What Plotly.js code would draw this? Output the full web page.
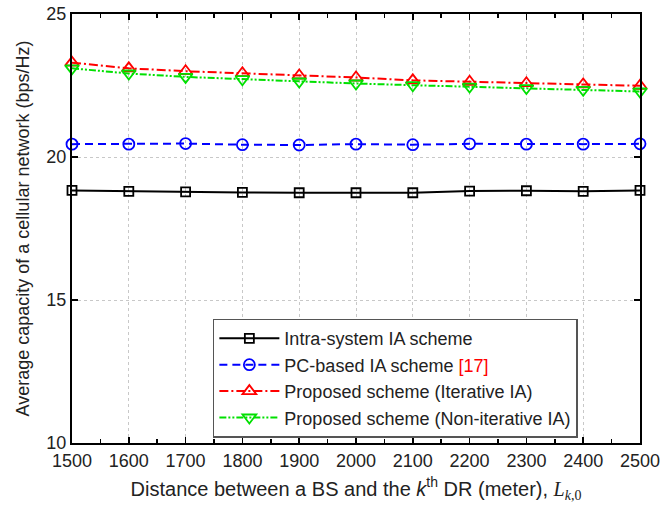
<!DOCTYPE html>
<html>
<head>
<meta charset="utf-8">
<script src="https://cdn.plot.ly/plotly-3.0.1.min.js"></script>
<style>body{margin:0;background:#fff}#chart{width:662px;height:519px}</style>
</head>
<body>
<div id="chart"></div>
<script>
const distance = [1500, 1600, 1700, 1800, 1900, 2000, 2100, 2200, 2300, 2400, 2500];
const intraSystemIA = [18.83, 18.80, 18.78, 18.76, 18.75, 18.75, 18.75, 18.81, 18.82, 18.80, 18.83];
const pcBasedIA = [20.45, 20.45, 20.47, 20.43, 20.42, 20.45, 20.43, 20.46, 20.45, 20.45, 20.46];
const proposedIterative = [23.30, 23.10, 23.00, 22.93, 22.85, 22.78, 22.68, 22.63, 22.58, 22.54, 22.49];
const proposedNonIterative = [23.10, 22.92, 22.80, 22.72, 22.64, 22.57, 22.51, 22.46, 22.41, 22.35, 22.29];
const seriesNames = [
  'Intra-system IA scheme',
  'PC-based IA scheme <span style="color:#ff0000">[17]</span>',
  'Proposed scheme (Iterative IA)',
  'Proposed scheme (Non-iterative IA)'
];
const xTicks = [1500, 1600, 1700, 1800, 1900, 2000, 2100, 2200, 2300, 2400, 2500];
const yTicks = [10, 15, 20, 25];

function tr(y, name, color, dash, symbol, size) {
  return {
    x: distance, y: y, name: name, type: 'scatter', mode: 'lines+markers',
    line: {color: color, width: 2, dash: dash},
    marker: {symbol: symbol, size: size, color: color, line: {color: color, width: 1.8}},
    cliponaxis: false
  };
}
const data = [
  tr(intraSystemIA, seriesNames[0], '#000000', 'solid', 'square-open', 9),
  tr(pcBasedIA, seriesNames[1], '#0000ff', '8px,5px', 'circle-open', 11),
  tr(proposedIterative, seriesNames[2], '#ff0000', '9px,3px,2px,3px', 'triangle-up-open', 12),
  tr(proposedNonIterative, seriesNames[3], '#00e000', '7px,2px,2px,2px,2px,2px', 'triangle-down-open', 12)
];
const axisCommon = {
  showline: true, linecolor: '#000', linewidth: 2, mirror: 'ticks',
  ticks: 'inside', ticklen: 6, tickwidth: 1.5, tickcolor: '#000',
  showgrid: true, gridcolor: '#c8c8c8', gridwidth: 1, griddash: 'dot',
  zeroline: false,
  tickfont: {family: 'Liberation Sans, Arial, sans-serif', size: 18, color: '#222'}
};
const layout = {
  width: 662, height: 519,
  margin: {l: 72, r: 22, t: 14, b: 76},
  paper_bgcolor: '#fff', plot_bgcolor: '#fff',
  showlegend: true,
  font: {family: 'Liberation Sans, Arial, sans-serif', size: 16, color: '#222'},
  xaxis: Object.assign({}, axisCommon, {
    range: [1500, 2500], tickmode: 'array', tickvals: xTicks, ticktext: xTicks.map(String),
    minor: {dtick: 50, ticks: 'inside', ticklen: 4, tickcolor: '#000', tickwidth: 1.5, showgrid: false},
    title: {text: 'Distance between a BS and the <i>k</i><sup>th</sup> DR (meter), <span style="font-family:Liberation Serif, Times New Roman, serif"><i>L</i><sub><i>k</i>,0</sub></span>',
            font: {size: 20, color: '#222'}, standoff: 12}
  }),
  yaxis: Object.assign({}, axisCommon, {
    range: [10, 25], tickmode: 'array', tickvals: yTicks, ticktext: yTicks.map(String),
    title: {text: 'Average capacity of a cellular network (bps/Hz)', font: {size: 18, color: '#222'}, standoff: 12}
  }),
  legend: {
    x: 0.248, y: 0.29, xanchor: 'left', yanchor: 'top',
    bgcolor: '#fff', bordercolor: '#555', borderwidth: 1.5,
    font: {size: 18, color: '#222'},
    tracegroupgap: 0, itemwidth: 60
  }
};
Plotly.newPlot('chart', data, layout, {displayModeBar: false, staticPlot: true});
</script>
</body>
</html>
